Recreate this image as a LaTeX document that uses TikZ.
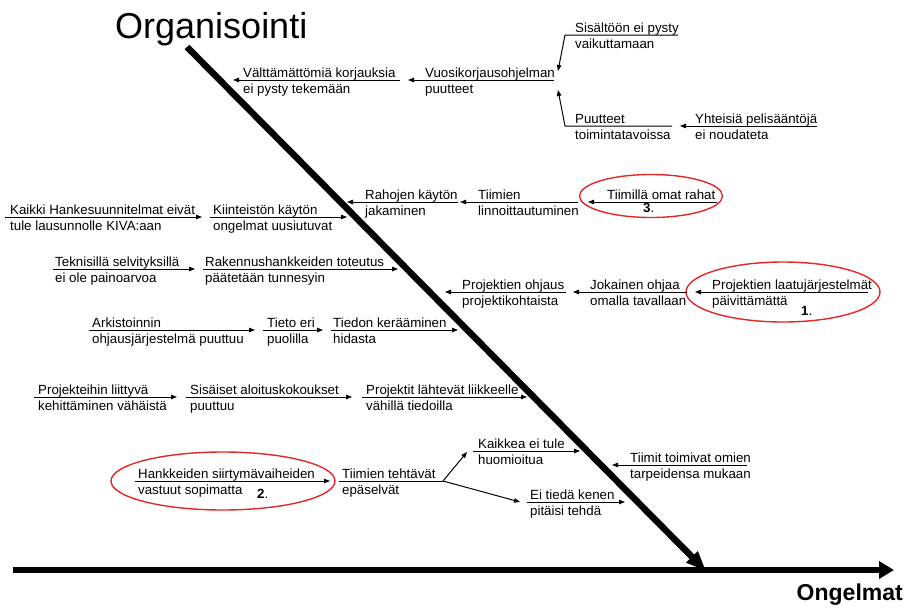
\documentclass[tikz,border=0pt]{standalone}
\usepackage{fontspec}
\setmainfont{Liberation Sans}
\usetikzlibrary{arrows.meta,shapes.geometric}
\definecolor{ringred}{RGB}{228,38,38}
\tikzset{
  lbl/.style={inner sep=0pt, font=\fontsize{13.3}{15}\selectfont},
  num/.style={inner sep=0pt, font=\fontsize{13.3}{15}\selectfont},
  arr/.style={line width=1pt, -{Triangle[length=6pt,width=4.5pt]}},
  bone/.style={line width=1pt},
  spine/.style={line width=6pt, -{Triangle[length=15pt,width=17pt]}},
  slant/.style={line width=6.5pt, -{Triangle[length=20pt,width=15pt]}},
  ring/.style={draw=ringred, line width=1.4pt, ellipse, inner sep=0pt},
}
% a cause: first line above the bone, second line below it
\newcommand\cause[5]{%
  \node[lbl,anchor=base west] (#1) at (#2,#3-3) {#4};
  \node[lbl,anchor=base west] (#1-b) at (#2,#3+13) {#5};
}
\begin{document}
\begin{tikzpicture}[x=1pt,y=-1pt]
\useasboundingbox (0,0) rectangle (906,608);

% titles
\node[inner sep=0pt, anchor=base west, font=\fontsize{36}{40}\selectfont] (org) at (115,38) {Organisointi};
\node[inner sep=0pt, anchor=base east, font=\bfseries\fontsize{23}{26}\selectfont] (ong) at (903,600) {Ongelmat};

% main spine and the category bone
\coordinate (sp-l) at (13,570);
\coordinate (sp-r) at (894,570);
\coordinate (sl-t) at (187,47);
\coordinate (sl-b) at (706,571);
\draw[spine] (sp-l) -- (sp-r);
\draw[slant] (sl-t) -- (sl-b);

% ---- upper cluster
\cause{vkj}{243}{80}{Välttämättömiä korjauksia}{ei pysty tekemään}
\cause{vko}{425}{80}{Vuosikorjausohjelman}{puutteet}
\cause{sis}{575}{35}{Sisältöön ei pysty}{vaikuttamaan}
\cause{puu}{575}{126}{Puutteet}{toimintatavoissa}
\cause{yht}{695}{126}{Yhteisiä pelisääntöjä}{ei noudateta}

\coordinate (vkj-e) at (400,80);  \coordinate (vkj-t) at (233,80);
\coordinate (vko-e) at (554,80);  \coordinate (vko-t) at (408,80);
\coordinate (sis-e) at (678,35);  \coordinate (sis-k) at (565,35);  \coordinate (sis-t) at (558,71);
\coordinate (puu-e) at (672,126); \coordinate (puu-k) at (565,126); \coordinate (puu-t) at (558,90);
\coordinate (yht-e) at (817,126); \coordinate (yht-t) at (680,126);
\draw[arr] (vkj-e) -- (vkj-t);
\draw[arr] (vko-e) -- (vko-t);
\draw[arr] (sis-e) -- (sis-k) -- (sis-t);
\draw[arr] (puu-e) -- (puu-k) -- (puu-t);
\draw[arr] (yht-e) -- (yht-t);

% ---- funding row
\cause{kai}{10}{217}{Kaikki Hankesuunnitelmat eivät}{tule lausunnolle KIVA:aan}
\cause{kii}{213}{217}{Kiinteistön käytön}{ongelmat uusiutuvat}
\cause{rah}{365}{202}{Rahojen käytön}{jakaminen}
\cause{tli}{478}{202}{Tiimien}{linnoittautuminen}
\node[lbl,anchor=base west] (tom) at (607,199) {Tiimillä omat rahat};
\node[num,anchor=base west] (n3) at (643,212) {\textbf{3}.};
\node[ring, minimum width=143pt, minimum height=43pt] (ring3) at (651,196) {};

\coordinate (kai-s) at (5,217);   \coordinate (kai-t) at (202,217);
\coordinate (kii-s) at (210,217); \coordinate (kii-t) at (347,217);
\coordinate (rah-e) at (458,202); \coordinate (rah-t) at (347,202);
\coordinate (tli-e) at (578,202); \coordinate (tli-t) at (460,202);
\coordinate (tom-e) at (717,202); \coordinate (tom-t) at (588,202);
\draw[arr] (kai-s) -- (kai-t);
\draw[arr] (kii-s) -- (kii-t);
\draw[arr] (rah-e) -- (rah-t);
\draw[arr] (tli-e) -- (tli-t);
\draw[arr] (tom-e) -- (tom-t);

% ---- decision row
\cause{tek}{55}{269}{Teknisillä selvityksillä}{ei ole painoarvoa}
\cause{rak}{205}{269}{Rakennushankkeiden toteutus}{päätetään tunnesyin}
\coordinate (tek-s) at (53,269);  \coordinate (tek-t) at (195,269);
\coordinate (rak-s) at (203,269); \coordinate (rak-t) at (398,269);
\draw[arr] (tek-s) -- (tek-t);
\draw[arr] (rak-s) -- (rak-t);

% ---- steering row
\cause{poh}{462}{292}{Projektien ohjaus}{projektikohtaista}
\cause{jok}{590}{292}{Jokainen ohjaa}{omalla tavallaan}
\cause{pla}{712}{292}{Projektien laatujärjestelmät}{päivittämättä}
\node[num,anchor=base west] (n1) at (801,315) {\textbf{1}.};
\node[ring, minimum width=194pt, minimum height=60pt] (ring1) at (783,292) {};
\coordinate (poh-e) at (566,292); \coordinate (poh-t) at (445,292);
\coordinate (jok-e) at (687,292); \coordinate (jok-t) at (573,292);
\coordinate (pla-e) at (868,292); \coordinate (pla-t) at (695,292);
\draw[arr] (poh-e) -- (poh-t);
\draw[arr] (jok-e) -- (jok-t);
\draw[arr] (pla-e) -- (pla-t);

% ---- information row
\cause{ark}{92}{330}{Arkistoinnin}{ohjausjärjestelmä puuttuu}
\cause{tie}{267}{330}{Tieto eri}{puolilla}
\cause{ked}{333}{330}{Tiedon kerääminen}{hidasta}
\coordinate (ark-s) at (89,330);  \coordinate (ark-t) at (255,330);
\coordinate (tie-s) at (263,330); \coordinate (tie-t) at (323,330);
\coordinate (ked-s) at (331,330); \coordinate (ked-t) at (458,330);
\draw[arr] (ark-s) -- (ark-t);
\draw[arr] (tie-s) -- (tie-t);
\draw[arr] (ked-s) -- (ked-t);

% ---- start-up row
\cause{pli}{38}{397}{Projekteihin liittyvä}{kehittäminen vähäistä}
\cause{sai}{190}{397}{Sisäiset aloituskokoukset}{puuttuu}
\cause{plh}{366}{397}{Projektit lähtevät liikkeelle}{vähillä tiedoilla}
\coordinate (pli-s) at (34,397);  \coordinate (pli-t) at (177,397);
\coordinate (sai-s) at (186,397); \coordinate (sai-t) at (352,397);
\coordinate (plh-s) at (362,397); \coordinate (plh-t) at (527,397);
\draw[arr] (pli-s) -- (pli-t);
\draw[arr] (sai-s) -- (sai-t);
\draw[arr] (plh-s) -- (plh-t);

% ---- responsibility row
\cause{han}{138}{481}{Hankkeiden siirtymävaiheiden}{vastuut sopimatta}
\node[num,anchor=base west] (n2) at (257,498) {\textbf{2}.};
\node[ring, minimum width=224pt, minimum height=58pt] (ring2) at (223,481) {};
\cause{tte}{342}{481}{Tiimien tehtävät}{epäselvät}
\cause{kke}{478}{451}{Kaikkea ei tule}{huomioitua}
\cause{eit}{530}{502}{Ei tiedä kenen}{pitäisi tehdä}
\cause{tto}{630}{465}{Tiimit toimivat omien}{tarpeidensa mukaan}
\coordinate (han-s) at (135,481); \coordinate (han-t) at (330,481);
\coordinate (tte-s) at (339,481); \coordinate (tte-k) at (443,481);
\coordinate (fork-u) at (467,452); \coordinate (fork-d) at (520,502);
\coordinate (kke-s) at (473,451); \coordinate (kke-t) at (580,451);
\coordinate (eit-s) at (527,502); \coordinate (eit-t) at (625,502);
\coordinate (tto-e) at (747,465); \coordinate (tto-t) at (612,465);
\draw[arr] (han-s) -- (han-t);
\draw[bone] (tte-s) -- (tte-k);
\draw[arr] (tte-k) -- (fork-u);
\draw[arr] (tte-k) -- (fork-d);
\draw[arr] (kke-s) -- (kke-t);
\draw[arr] (eit-s) -- (eit-t);
\draw[arr] (tto-e) -- (tto-t);
\end{tikzpicture}
\end{document}
